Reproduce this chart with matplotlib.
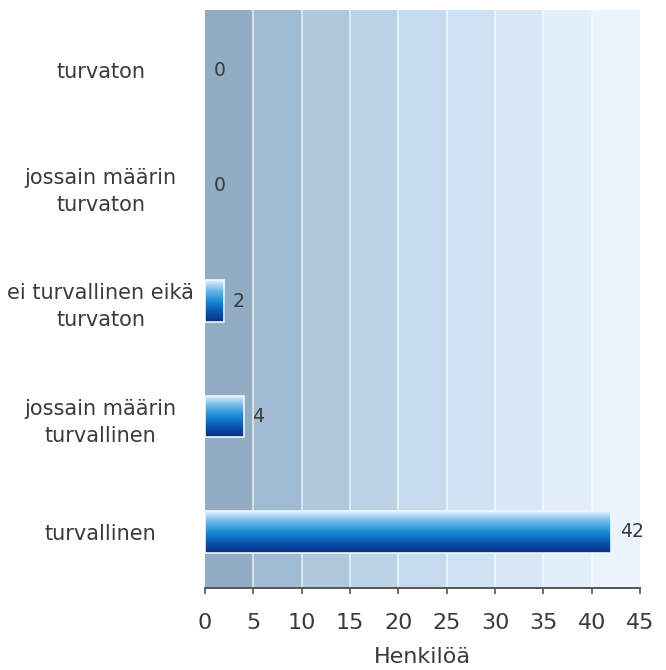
import numpy as np
import matplotlib
matplotlib.use("Agg")
import matplotlib.pyplot as plt
from matplotlib.colors import LinearSegmentedColormap
from matplotlib.patches import Rectangle

plt.rcParams['font.family'] = ['DejaVu Sans']

categories = ["turvallinen", "jossain määrin\nturvallinen", "ei turvallinen eikä\nturvaton",
              "jossain määrin\nturvaton", "turvaton"]
values = [42, 4, 2, 0, 0]
xticks = [0, 5, 10, 15, 20, 25, 30, 35, 40, 45]
xlabel = "Henkilöä"

band_colors = ["#91acc3", "#9fbbd1", "#afc8dc", "#bcd3e6", "#c7dbee",
               "#cfe2f3", "#d9e8f6", "#e2eef9", "#ebf3fc"]
text_color = "#3a3a3a"

fig = plt.figure(figsize=(6.66, 6.70), dpi=100)
ax = fig.add_axes([205/666, 82/670, 435/666, 578/670])

ypos = np.arange(len(categories))
ax.set_xlim(0, 45)
ax.set_ylim(-0.485, 4.52)

# striped background
for i, c in enumerate(band_colors):
    ax.axvspan(xticks[i], xticks[i + 1], color=c, zorder=0, lw=0)
for x in xticks[1:-1]:
    ax.axvline(x, color="white", lw=1.2, alpha=0.7, zorder=1)

# gradient bars
bar_h = 0.36
cmap = LinearSegmentedColormap.from_list(
    "barfill", ["#0b2f80", "#0a55b0", "#1a8ad6", "#6cb8e8", "#e4f2fb"])
grad = np.linspace(0, 1, 256).reshape(-1, 1)
bars = ax.barh(ypos, values, height=bar_h, color="none", edgecolor="none", zorder=2)
for b in bars:
    w = b.get_width()
    if w <= 0:
        continue
    x0, y0, h = b.get_x(), b.get_y(), b.get_height()
    im = ax.imshow(grad, cmap=cmap, aspect="auto", origin="lower",
                   extent=(x0, x0 + w, y0, y0 + h), zorder=3, interpolation="bicubic")
    clip = Rectangle((x0, y0), w, h, transform=ax.transData)
    im.set_clip_path(clip)
    ax.add_patch(Rectangle((x0, y0), w, h, fill=False, edgecolor="#eef6fc",
                           lw=1.2, zorder=4))

# value labels
for y, v in zip(ypos, values):
    ax.text(v + 0.9, y, str(v), va="center", ha="left", fontsize=13.5,
            color=text_color, zorder=5)

ax.set_yticks(ypos)
ax.set_yticklabels(categories, fontsize=15, color=text_color,
                   ha="center", multialignment="center", linespacing=1.45)
ax.tick_params(axis="y", length=0, pad=75)

ax.set_xticks(xticks)
ax.set_xticklabels([str(t) for t in xticks], fontsize=16, color=text_color)
ax.tick_params(axis="x", direction="out", length=4, width=1.2, color="#555555", pad=14)
ax.set_xlabel(xlabel, fontsize=16, color=text_color, labelpad=10)

for s in ["top", "right", "left"]:
    ax.spines[s].set_visible(False)
ax.spines["bottom"].set_color("#555555")
ax.spines["bottom"].set_linewidth(1.4)

fig.savefig("out.png", dpi=100)
